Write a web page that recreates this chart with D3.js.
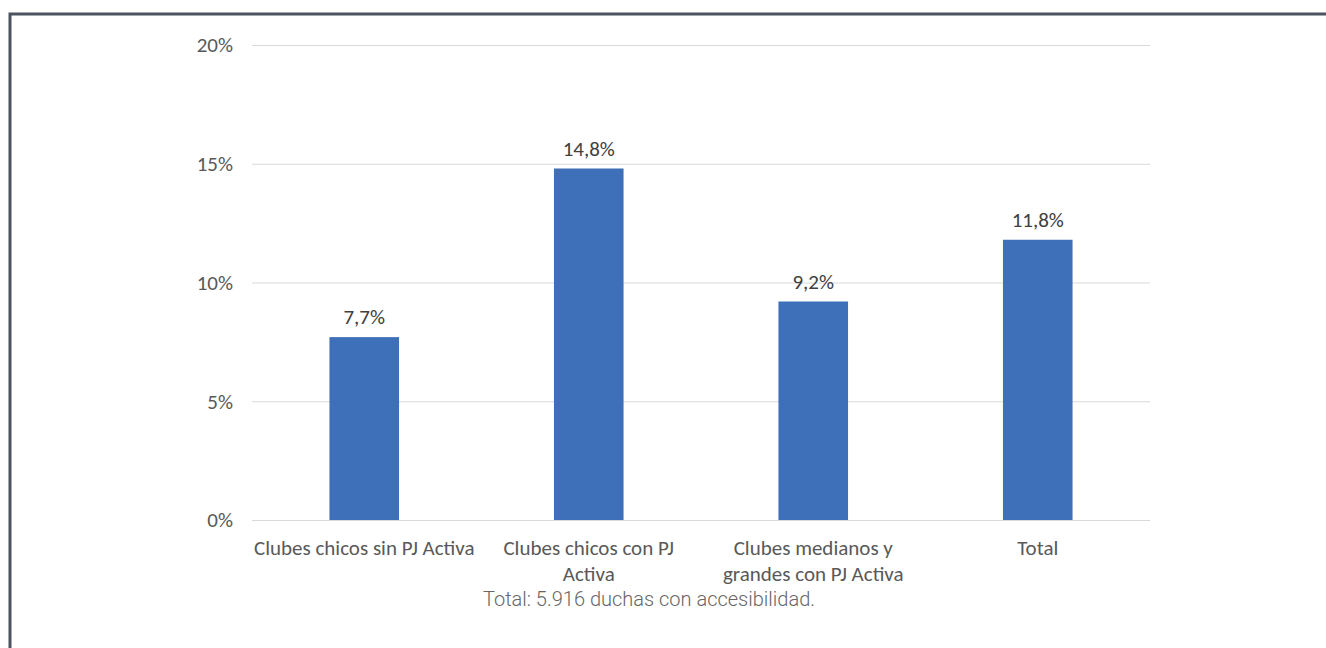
<!DOCTYPE html>
<html>
<head>
<meta charset="utf-8">
<script src="https://cdn.jsdelivr.net/npm/d3@7"></script>
<style>
	body { margin: 0; background: #fff; }
	svg { display: block; }
</style>
</head>
<body>
<svg id="chart" width="1326" height="648"></svg>
<script>
var categories = [
	["Clubes chicos sin PJ Activa"],
	["Clubes chicos con PJ", "Activa"],
	["Clubes medianos y", "grandes con PJ Activa"],
	["Total"]
];
var values = [7.7, 14.8, 9.2, 11.8];
var yTicks = [0, 5, 10, 15, 20];
var caption = "Total: 5.916 duchas con accesibilidad.";

var svg = d3.select("#chart");

// marco
svg.append("path")
	.attr("d", "M10,660 L10,14 L1340,14")
	.attr("fill", "none")
	.attr("stroke", "#4b535e")
	.attr("stroke-width", 3);

var plotLeft = 252, plotRight = 1150, plotTop = 45, plotBottom = 520;

var xScale = d3.scaleBand()
	.domain(d3.range(values.length))
	.range([plotLeft, plotRight]);

var yScale = d3.scaleLinear()
	.domain([0, 20])
	.range([plotBottom, plotTop]);

var font = "Carlito, Calibri, 'Open Sans', sans-serif";

// líneas de cuadrícula
svg.append("g")
	.attr("transform", "translate(" + plotLeft + ",0)")
	.call(d3.axisLeft(yScale).tickValues(yTicks).tickSize(-(plotRight - plotLeft)).tickFormat(""))
	.call(function(g){
		g.select(".domain").remove();
		g.selectAll("line").attr("stroke", "#d9d9d9").attr("stroke-width", 1);
	});

// etiquetas eje y
svg.append("g").selectAll("text")
	.data(yTicks)
	.enter().append("text")
	.attr("x", 233)
	.attr("y", function(d){return yScale(d);})
	.attr("dy", "0.35em")
	.attr("text-anchor", "end")
	.attr("font-family", font)
	.attr("font-size", 21)
	.attr("fill", "#595959")
	.text(function(d){return d + "%";});

var barW = xScale.bandwidth() * 0.31;

svg.selectAll("rect.bar")
	.data(values)
	.enter().append("rect")
	.attr("class", "bar")
	.attr("x", function(d, i){return xScale(i) + xScale.bandwidth()/2 - barW/2;})
	.attr("y", function(d){return yScale(d);})
	.attr("width", barW)
	.attr("height", function(d){return plotBottom - yScale(d);})
	.attr("fill", "#3d70b8");

svg.selectAll("text.val")
	.data(values)
	.enter().append("text")
	.attr("class", "val")
	.attr("x", function(d, i){return xScale(i) + xScale.bandwidth()/2;})
	.attr("y", function(d){return yScale(d) - 13;})
	.attr("text-anchor", "middle")
	.attr("font-family", font)
	.attr("font-size", 21)
	.attr("fill", "#404040")
	.text(function(d){return d.toFixed(1).replace(".", ",") + "%";});

// etiquetas categorías
var cat = svg.selectAll("text.cat")
	.data(categories)
	.enter().append("text")
	.attr("class", "cat")
	.attr("text-anchor", "middle")
	.attr("font-family", font)
	.attr("font-size", 21)
	.attr("fill", "#595959");
cat.selectAll("tspan")
	.data(function(d, i){return d.map(function(t){return {t: t, i: i};});})
	.enter().append("tspan")
	.attr("x", function(d){return xScale(d.i) + xScale.bandwidth()/2;})
	.attr("y", function(d, j){return 555 + j * 26;})
	.text(function(d){return d.t;});

svg.append("text")
	.attr("x", 649)
	.attr("y", 606)
	.attr("text-anchor", "middle")
	.attr("font-family", "Roboto, sans-serif")
	.attr("font-weight", 300)
	.attr("font-size", 20)
	.attr("fill", "#666")
	.text(caption);
</script>
</body>
</html>
